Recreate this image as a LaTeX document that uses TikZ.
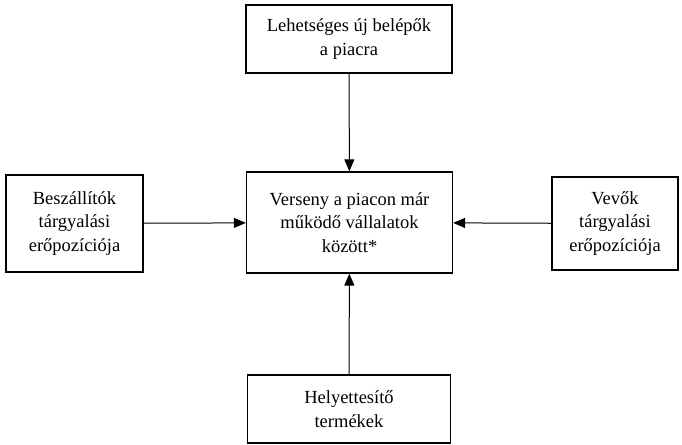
\documentclass[tikz,border=0pt]{standalone}
\usepackage{fontspec}
\setmainfont{Liberation Serif}
\usetikzlibrary{arrows.meta,positioning}

\begin{document}
\begin{tikzpicture}[x=1pt,y=-1pt,
    forcestyle/.style={draw,line width=1.3pt,align=center,inner sep=0pt,font=\fontsize{18.5}{23.5}\selectfont},
    pushstyle/.style={-{Triangle[length=12pt,width=10pt]},line width=1pt}]
    \useasboundingbox (0,0) rectangle (682,444);
    % the five forces
    \node[forcestyle,minimum width=206pt,minimum height=101pt] (rivals) at (349.5,222.5) {Verseny a piacon már\\működő vállalatok\\között*};
    \node[forcestyle,minimum width=206pt,minimum height=68pt] (entrants) at (349,39) {Lehetséges új belépők\\a piacra};
    \node[forcestyle,minimum width=203pt,minimum height=68pt] (substitutes) at (349,409) {Helyettesítő\\termékek};
    \node[forcestyle,minimum width=137pt,minimum height=97pt] (suppliers) at (74.5,223.5) {Beszállítók\\tárgyalási\\erőpozíciója};
    \node[forcestyle,minimum width=126pt,minimum height=93pt] (buyers) at (615,223.5) {Vevők\\tárgyalási\\erőpozíciója};
    % pressure on the rivals
    \draw[pushstyle] (entrants) -- (rivals);
    \draw[pushstyle] (substitutes) -- (rivals);
    \draw[pushstyle] (suppliers) -- (rivals);
    \draw[pushstyle] (buyers) -- (rivals);
\end{tikzpicture}
\end{document}
